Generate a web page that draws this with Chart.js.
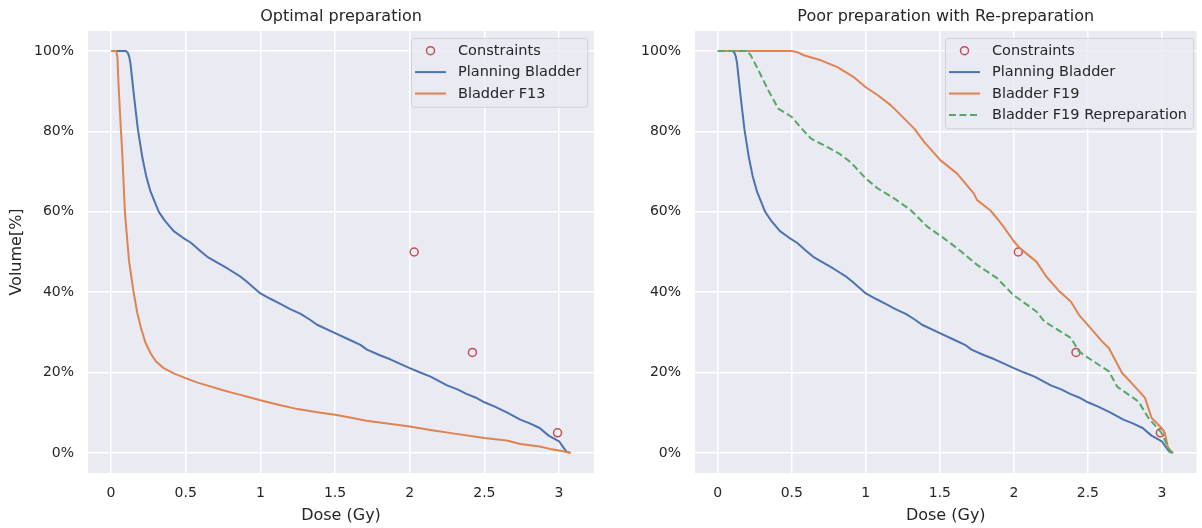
<!DOCTYPE html>
<html>
<head>
<meta charset="utf-8">
<title>Bladder DVH</title>
<script src="https://cdn.jsdelivr.net/npm/chart.js@4.4.1/dist/chart.umd.min.js"></script>
<style>
  body { margin: 0; background: #fff; }
  #wrap { position: relative; width: 1202px; height: 528px; }
  canvas { position: absolute; top: 0; }
</style>
</head>
<body>
<div id="wrap">
  <canvas id="optimal" width="600" height="528" style="left:0;width:600px;height:528px"></canvas>
  <canvas id="poor" width="601" height="528" style="left:601px;width:601px;height:528px"></canvas>
</div>
<script>
// tick labels
const doseTicks = [0, 0.5, 1, 1.5, 2, 2.5, 3];
const volumeTicks = [0, 20, 40, 60, 80, 100];

// dose constraints (same on both panels)
const constraintDose = [2.03, 2.42, 2.99];
const constraintVolume = [50, 25, 5];

// planning bladder DVH
const planningDose = [0, 0.10, 0.112, 0.122, 0.13, 0.155, 0.18, 0.21, 0.235, 0.265, 0.32, 0.36, 0.42, 0.48,
  0.535, 0.60, 0.645, 0.70, 0.78, 0.87, 0.91, 1.0, 1.07, 1.134, 1.2, 1.27, 1.33, 1.38, 1.5, 1.6, 1.67,
  1.714, 1.80, 1.87, 2.0, 2.07, 2.14, 2.25, 2.32, 2.38, 2.44, 2.50, 2.57, 2.65, 2.74, 2.80, 2.87, 2.93,
  2.97, 3.0, 3.03, 3.05, 3.075];
const planningVolume = [100, 100, 99.6, 98.6, 97, 88.5, 80.5, 73.5, 69, 65, 60, 57.8, 55.2, 53.6,
  52.3, 50.2, 48.8, 47.6, 45.9, 43.8, 42.6, 39.7, 38.3, 37.1, 35.8, 34.6, 33.2, 31.9, 29.8, 28.1, 26.9,
  25.7, 24.3, 23.3, 21.1, 20.0, 19.0, 16.8, 15.8, 14.7, 13.8, 12.6, 11.5, 10.1, 8.3, 7.4, 6.2, 4.3,
  3.5, 2.9, 1.3, 0.3, 0];

// fraction 13 (optimal preparation)
const f13Dose = [0, 0.035, 0.043, 0.05, 0.067, 0.075, 0.093, 0.12, 0.15, 0.175, 0.2, 0.23, 0.265, 0.3,
  0.353, 0.42, 0.5, 0.58, 0.67, 0.75, 0.84, 0.92, 1.0, 1.12, 1.25, 1.37, 1.5, 1.6, 1.71, 1.85, 2.0,
  2.16, 2.3, 2.5, 2.65, 2.74, 2.87, 2.94, 3.03, 3.078];
const f13Volume = [100, 100, 98.5, 92, 80, 75, 60, 48, 40.3, 35, 31.2, 27.5, 24.8, 22.8,
  21.1, 19.8, 18.6, 17.5, 16.5, 15.6, 14.7, 13.9, 13.1, 12.0, 10.9, 10.2, 9.5, 8.8, 8.0, 7.3, 6.6,
  5.6, 4.8, 3.7, 3.1, 2.2, 1.6, 1.0, 0.4, 0];

// fraction 19 (poor preparation)
const f19Dose = [0, 0.5, 0.54, 0.586, 0.697, 0.808, 0.919, 1.0, 1.081, 1.17, 1.26, 1.327, 1.394, 1.505,
  1.617, 1.729, 1.752, 1.84, 1.897, 1.93, 1.997, 2.042, 2.152, 2.219, 2.30, 2.386, 2.441, 2.52, 2.597,
  2.642, 2.731, 2.775, 2.83, 2.886, 2.931, 2.998, 3.02, 3.042, 3.076];
const f19Volume = [100, 100, 99.7, 98.9, 97.7, 96, 93.5, 91, 89, 86.5, 83.2, 80.7, 77.4, 72.8,
  69.5, 64.6, 62.9, 60.4, 57.9, 56.3, 52.8, 50.9, 47.6, 43.9, 40.5, 37.6, 34.3, 31, 27.7,
  26.1, 19.9, 18.2, 16, 13.7, 8.7, 6.2, 5.0, 1.2, 0];

// fraction 19 after re-preparation
const repDose = [0, 0.197, 0.222, 0.253, 0.342, 0.408, 0.5, 0.56, 0.63, 0.741, 0.82, 0.896, 1.0, 1.081,
  1.193, 1.304, 1.416, 1.528, 1.618, 1.752, 1.886, 1.997, 2.152, 2.207, 2.386, 2.441, 2.55, 2.642,
  2.698, 2.842, 2.909, 2.998, 3.054, 3.07];
const repVolume = [100, 100, 99, 96.8, 90.2, 85.7, 83.6, 81, 78.2, 76.1, 74.5, 72.4, 68.3, 65.8,
  63.3, 60.4, 56.3, 53.4, 50.9, 46.8, 43.5, 39.3, 35.2, 32.7, 28.6, 25.2, 22.5, 20.3,
  16.5, 12.8, 8.7, 5.0, 0.4, 0];

const BLUE = '#4c72b0', ORANGE = '#dd8452', GREEN = '#55a868', RED = '#c44e52', INK = '#262626';
const FONT = '"DejaVu Sans", sans-serif';

const pts = (xs, ys) => xs.map((x, i) => ({ x: x, y: ys[i] }));

function constraints() {
  return {
    label: 'Constraints', data: pts(constraintDose, constraintVolume), showLine: false,
    pointRadius: 4, pointHoverRadius: 4, pointBorderWidth: 1.5,
    borderColor: RED, backgroundColor: 'rgba(0,0,0,0)', order: 9
  };
}
function curve(label, xs, ys, color, order, dash) {
  return {
    label: label, data: pts(xs, ys), showLine: true, pointRadius: 0, pointHoverRadius: 0,
    borderColor: color, backgroundColor: color, borderWidth: 2, tension: 0,
    borderJoinStyle: 'round', borderDash: dash || [], order: order
  };
}

// seaborn-like grey panel behind the plot
const plotBackground = {
  id: 'plotBackground',
  beforeDraw(chart) {
    const { ctx, chartArea: a } = chart;
    ctx.save();
    ctx.fillStyle = '#eaeaf2';
    ctx.fillRect(a.left, a.top, a.right - a.left, a.bottom - a.top);
    ctx.restore();
  }
};

// title centred over the axes, not the canvas
const axesTitle = {
  id: 'axesTitle',
  afterDraw(chart, args, opts) {
    const { ctx, chartArea: a } = chart;
    ctx.save();
    ctx.font = '16px ' + FONT;
    ctx.fillStyle = INK;
    ctx.textAlign = 'center';
    ctx.textBaseline = 'middle';
    ctx.fillText(opts.text, (a.left + a.right) / 2, 17);
    ctx.restore();
  }
};

// legend box inside the plot, upper right
const boxLegend = {
  id: 'boxLegend',
  afterDraw(chart, args, opts) {
    const ctx = chart.ctx;
    const sets = chart.data.datasets;
    ctx.save();
    ctx.font = '14.5px ' + FONT;
    const textW = Math.max(...sets.map(d => ctx.measureText(d.label).width));
    const x = opts.left, y = 38, row = 21.4;
    const w = 53 + textW, h = 26 + row * (sets.length - 1);
    ctx.beginPath();
    ctx.roundRect(x + 0.5, y + 0.5, w, h, 3);
    ctx.fillStyle = 'rgba(234,234,242,0.8)';
    ctx.fill();
    ctx.strokeStyle = 'rgba(204,204,204,0.8)';
    ctx.lineWidth = 1;
    ctx.stroke();
    sets.forEach((d, i) => {
      const cy = y + 12.7 + i * row;
      if (d.showLine) {
        ctx.beginPath();
        ctx.setLineDash(d.borderDash);
        ctx.strokeStyle = d.borderColor;
        ctx.lineWidth = 2;
        ctx.moveTo(x + 4, cy);
        ctx.lineTo(x + 35, cy);
        ctx.stroke();
        ctx.setLineDash([]);
      } else {
        ctx.beginPath();
        ctx.arc(x + 19.5, cy, 4, 0, Math.PI * 2);
        ctx.strokeStyle = d.borderColor;
        ctx.lineWidth = 1.5;
        ctx.stroke();
      }
      ctx.fillStyle = INK;
      ctx.textAlign = 'left';
      ctx.textBaseline = 'middle';
      ctx.fillText(d.label, x + 47, cy + 0.5);
    });
    ctx.restore();
  }
};

function doseChart(id, title, datasets, showYTitle, yWidth, padRight, legendLeft) {
  return new Chart(document.getElementById(id), {
    type: 'scatter',
    data: { datasets: datasets },
    options: {
      responsive: false,
      animation: false,
      devicePixelRatio: 1,
      layout: { padding: { top: 31, right: padRight, left: 0, bottom: 0 } },
      plugins: {
        legend: { display: false },
        tooltip: { enabled: false },
        axesTitle: { text: title },
        boxLegend: { left: legendLeft }
      },
      scales: {
        x: {
          type: 'linear', min: -0.154, max: 3.234, bounds: 'data',
          border: { display: false },
          grid: { color: '#ffffff', lineWidth: 1.5, drawTicks: false },
          ticks: { color: INK, font: { family: FONT, size: 14 }, padding: 12, callback: v => String(v) },
          afterBuildTicks: s => { s.ticks = doseTicks.map(v => ({ value: v })); },
          afterFit: s => { s.height = 55; },
          title: { display: true, text: 'Dose (Gy)', color: INK, font: { family: FONT, size: 16 },
                   padding: { top: 0, bottom: 3 } }
        },
        y: {
          type: 'linear', min: -5, max: 105, bounds: 'data',
          border: { display: false },
          grid: { color: '#ffffff', lineWidth: 1.5, drawTicks: false },
          ticks: { color: INK, font: { family: FONT, size: 14 }, padding: 14, callback: v => v + '%' },
          afterBuildTicks: s => { s.ticks = volumeTicks.map(v => ({ value: v })); },
          afterFit: s => { s.width = yWidth; },
          title: { display: showYTitle, text: 'Volume[%]', color: INK, font: { family: FONT, size: 16 },
                   padding: { top: 7, bottom: 0 } }
        }
      }
    },
    plugins: [plotBackground, axesTitle, boxLegend]
  });
}

doseChart('optimal', 'Optimal preparation', [
  constraints(),
  curve('Planning Bladder', planningDose, planningVolume, BLUE, 2),
  curve('Bladder F13', f13Dose, f13Volume, ORANGE, 1)
], true, 88, 6, 411);

doseChart('poor', 'Poor preparation with Re-preparation', [
  constraints(),
  curve('Planning Bladder', planningDose, planningVolume, BLUE, 3),
  curve('Bladder F19', f19Dose, f19Volume, ORANGE, 2),
  curve('Bladder F19 Repreparation', repDose, repVolume, GREEN, 1, [7, 3.5])
], false, 94, 1, 344);
</script>
</body>
</html>
